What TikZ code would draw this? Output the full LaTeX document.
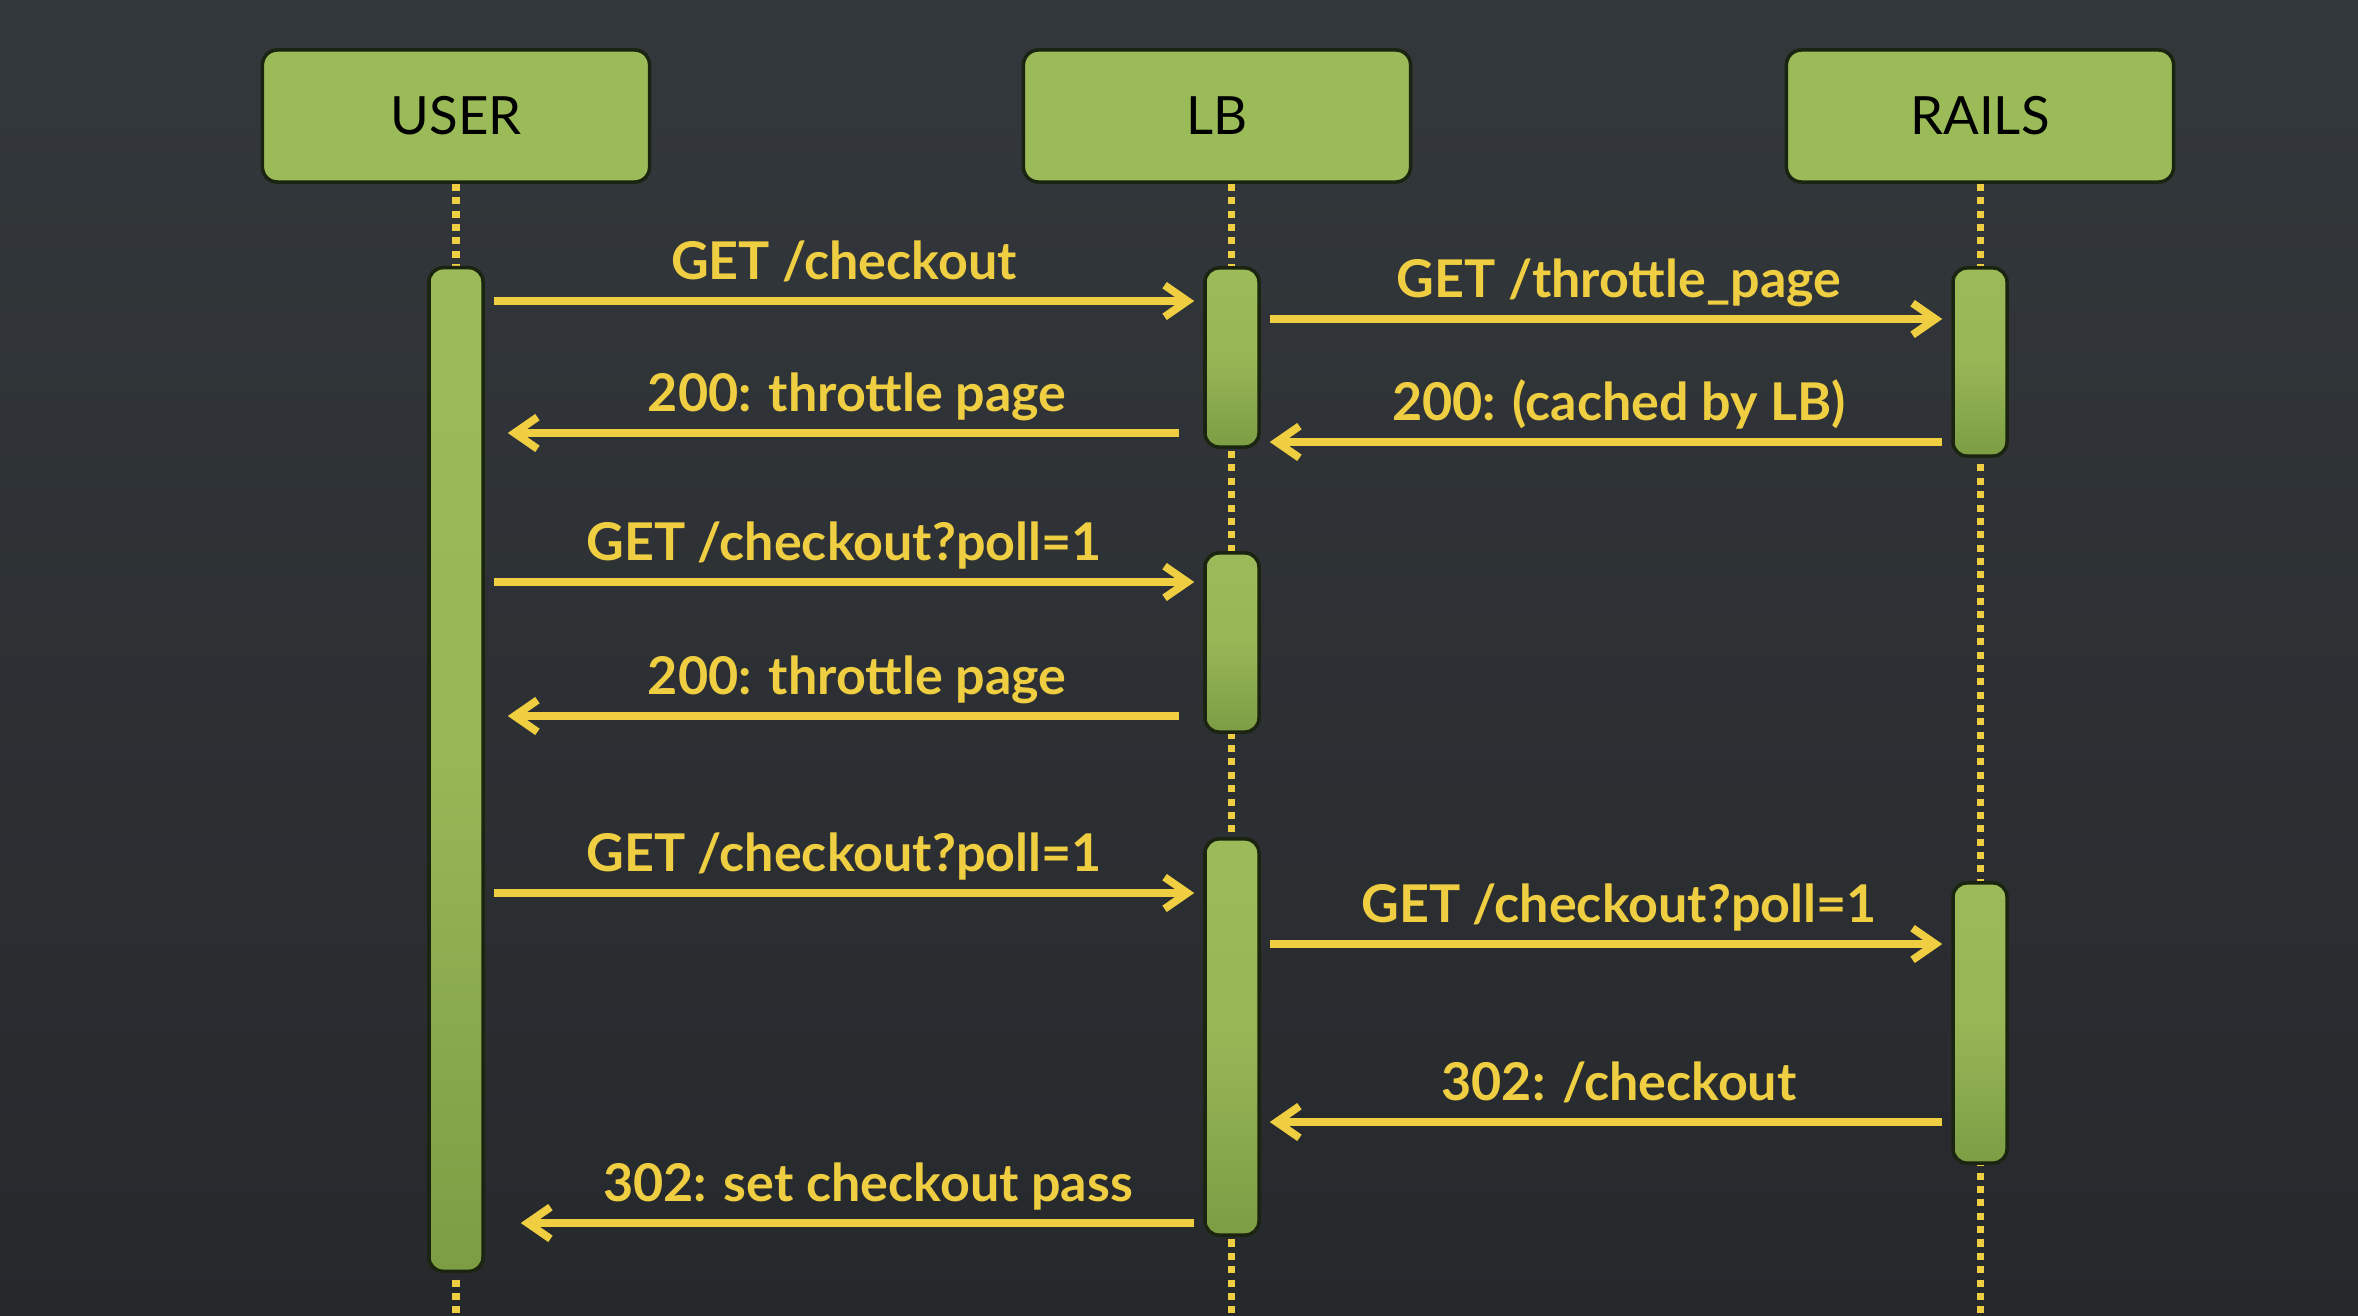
\documentclass[tikz,border=0pt]{standalone}
\usepackage{fontspec}
\setmainfont{Lato}
\usetikzlibrary{arrows.meta}
\definecolor{bgtop}{HTML}{33383C}
\definecolor{bgbot}{HTML}{26292C}
\definecolor{boxgreen}{HTML}{9BBB59}
\definecolor{bargreen}{HTML}{7D9D45}
\definecolor{edgegreen}{HTML}{1B2410}
\definecolor{msgyellow}{HTML}{F0CE42}

\tikzset{
  head/.style={draw=edgegreen, line width=1pt, fill=boxgreen, rounded corners=0.15cm,
    minimum width=3.87cm, minimum height=1.32cm, font=\fontsize{15}{18}\selectfont, text=black},
  bar/.style={draw=edgegreen, line width=1pt, top color=boxgreen, bottom color=bargreen,
    middle color=boxgreen!85!bargreen, rounded corners=0.14cm, minimum width=0.54cm, inner sep=0pt},
  life/.style={msgyellow, line width=2pt, dash pattern=on 2pt off 1.8pt},
  msg/.style={msgyellow, line width=2pt, shorten <=0.09cm, shorten >=0.09cm,
    -{Straight Barb[length=6.5pt, width=9pt, line width=2.2pt]}},
  back/.style={msg, shorten <=0.24cm, shorten >=0.23cm},
  lbl/.style={midway, anchor=base, yshift=6pt, text=msgyellow, font=\bfseries\fontsize{14.8}{18}\selectfont},
}

\begin{document}
\begin{tikzpicture}[x=0.01cm, y=-0.01cm]
  \useasboundingbox (0,0) rectangle (2358,1316);
  \shade[top color=bgtop, bottom color=bgbot] (0,0) rectangle (2358,1316);

  % participants
  \node[head] (user) at (456,116) {USER};
  \node[head] (lb) at (1217,116) {LB};
  \node[head] (rails) at (1980,116) {RAILS};

  % lifelines
  \coordinate (uend) at (456,1316);
  \coordinate (lend) at (1231,1316);
  \coordinate (rend) at (1980,1316);
  \draw[life] (user.south) -- (uend);
  \draw[life] (lb.south -| lend) -- (lend);
  \draw[life] (rails.south) -- (rend);

  % activations
  \node[bar, minimum height=10.03cm] (ubar) at (456,769.5) {};
  \node[bar, minimum height=1.79cm] (lbar1) at (1232,357.5) {};
  \node[bar, minimum height=1.79cm] (lbar2) at (1232,642.5) {};
  \node[bar, minimum height=3.96cm] (lbar3) at (1232,1037) {};
  \node[bar, minimum height=1.88cm] (rbar1) at (1980,362) {};
  \node[bar, minimum height=2.80cm] (rbar2) at (1980,1023) {};

  % messages
  \draw[msg] (ubar.east |- 0,301) -- (lbar1.west |- 0,301)
    node[lbl] {GET /checkout};
  \draw[back] (lbar1.west |- 0,433) -- (ubar.east |- 0,433)
    node[lbl, xshift=0.13cm] {200: throttle page};
  \draw[msg] (lbar1.east |- 0,319) -- (rbar1.west |- 0,319)
    node[lbl, xshift=0.13cm] {GET /throttle\_page};
  \draw[msg] (rbar1.west |- 0,442) -- (lbar1.east |- 0,442)
    node[lbl, xshift=0.13cm] {200: (cached by LB)};
  \draw[msg] (ubar.east |- 0,582) -- (lbar2.west |- 0,582)
    node[lbl] {GET /checkout?poll=1};
  \draw[back] (lbar2.west |- 0,716) -- (ubar.east |- 0,716)
    node[lbl, xshift=0.13cm] {200: throttle page};
  \draw[msg] (ubar.east |- 0,893) -- (lbar3.west |- 0,893)
    node[lbl] {GET /checkout?poll=1};
  \draw[msg] (lbar3.east |- 0,944) -- (rbar2.west |- 0,944)
    node[lbl, xshift=0.13cm] {GET /checkout?poll=1};
  \draw[msg] (rbar2.west |- 0,1122) -- (lbar3.east |- 0,1122)
    node[lbl, xshift=0.13cm] {302: /checkout};
  \draw[msg, shorten >=0.36cm] (lbar3.west |- 0,1223) -- (ubar.east |- 0,1223)
    node[lbl, xshift=0.24cm] {302: set checkout pass};
\end{tikzpicture}
\end{document}
